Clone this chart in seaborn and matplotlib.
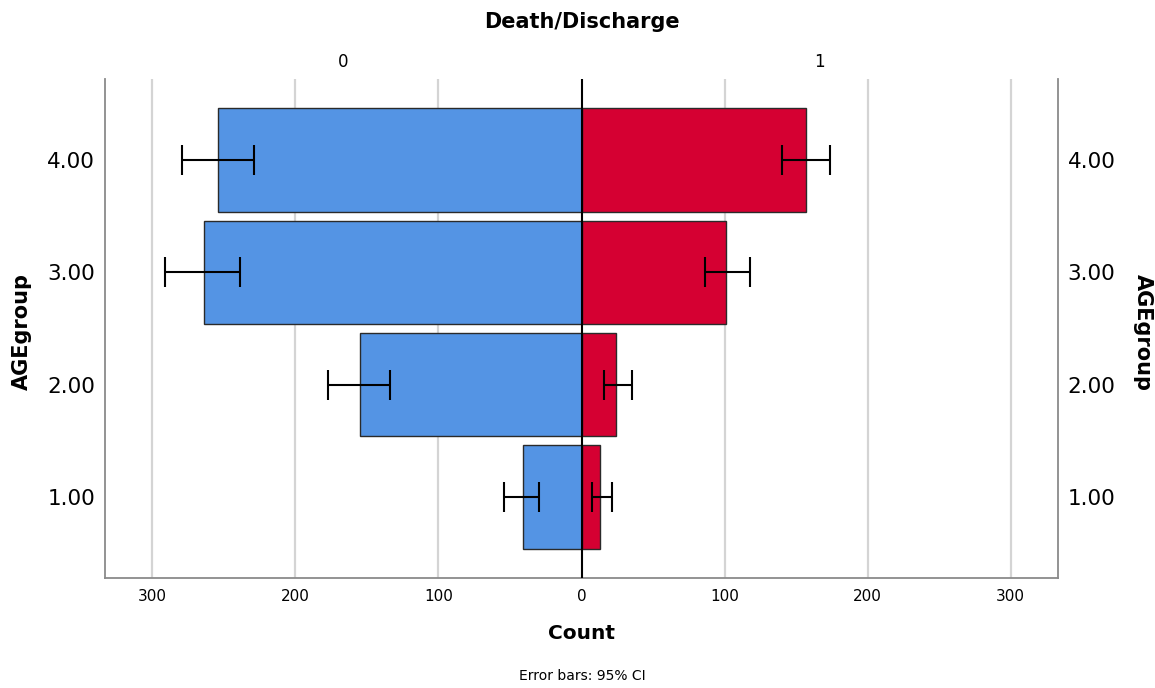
import numpy as np
import pandas as pd
import matplotlib
matplotlib.use("Agg")
import matplotlib.pyplot as plt
import matplotlib.transforms as mtransforms
import seaborn as sns

# values
age_groups = ["4.00", "3.00", "2.00", "1.00"]
outcomes = ["0", "1"]
count_0 = [254, 264, 155, 41]
count_1 = [157, 101, 24, 13]
ci_0_low = [229, 239, 134, 30]
ci_0_high = [279, 291, 177, 54]
ci_1_low = [140, 86, 16, 7]
ci_1_high = [174, 118, 35, 21]
x_ticks = [-300, -200, -100, 0, 100, 200, 300]

blue = "#5494E4"
red = "#D50032"

sns.set_style("white")
plt.rcParams["font.family"] = ["DejaVu Sans"]
plt.rcParams["text.color"] = "black"
plt.rcParams["xtick.color"] = "black"
plt.rcParams["ytick.color"] = "black"
plt.rcParams["axes.labelcolor"] = "black"

# long table, left side (outcome 0) drawn as negative counts
df = pd.DataFrame({
    "AGEgroup": age_groups * 2,
    "Death/Discharge": ["0"] * len(age_groups) + ["1"] * len(age_groups),
    "Count": [-c for c in count_0] + count_1,
})

fig = plt.figure(figsize=(11.55, 6.88), dpi=100)
ax = fig.add_axes([105 / 1155, 1 - 578 / 688, (1058 - 105) / 1155, (578 - 79) / 688])

# grid lines behind bars
for t in x_ticks:
    if t != 0:
        ax.axvline(t, color="#d4d4d4", lw=1.6, zorder=0)

sns.barplot(data=df, x="Count", y="AGEgroup", hue="Death/Discharge",
            order=age_groups, hue_order=outcomes, palette=[blue, red],
            saturation=1, dodge=False, width=0.92, errorbar=None, legend=False,
            edgecolor="#2a2a2a", linewidth=1.0, ax=ax, zorder=2)

ax.axvline(0, color="black", lw=1.5, zorder=3)

# 95% CI error bars
ypos = np.arange(len(age_groups))
c0 = np.array(count_0)
c1 = np.array(count_1)
ax.errorbar(-c0, ypos, xerr=[np.array(ci_0_high) - c0, c0 - np.array(ci_0_low)],
            fmt="none", ecolor="black", elinewidth=1.5, capsize=11, capthick=1.5, zorder=4)
ax.errorbar(c1, ypos, xerr=[c1 - np.array(ci_1_low), np.array(ci_1_high) - c1],
            fmt="none", ecolor="black", elinewidth=1.5, capsize=11, capthick=1.5, zorder=4)

ax.set_xlim(-333, 333)
ax.set_ylim(3.72, -0.72)
ax.set_xticks(x_ticks)
ax.set_xticklabels([str(abs(t)) for t in x_ticks], fontsize=11)
ax.tick_params(axis="both", length=0)
ax.tick_params(axis="x", pad=8)
ax.set_yticks(ypos)
ax.set_yticklabels(age_groups, fontsize=15.5)
ax.tick_params(axis="y", pad=7)
ax.set_xlabel("Count", fontsize=14.5, fontweight="bold", labelpad=14)
ax.set_ylabel("")

for side in ["left", "right", "bottom"]:
    ax.spines[side].set_color("#8a8a8a")
    ax.spines[side].set_linewidth(1.3)
ax.spines["top"].set_visible(False)

# right-hand axis labels
ax2 = ax.twinx()
ax2.set_ylim(ax.get_ylim())
ax2.set_yticks(ypos)
ax2.set_yticklabels(age_groups, fontsize=15.5)
ax2.tick_params(axis="y", length=0, pad=7)
for side in ["left", "right", "bottom", "top"]:
    ax2.spines[side].set_visible(False)

# panel labels on top
trans = mtransforms.blended_transform_factory(ax.transData, ax.transAxes)
ax.text(-333 / 2, 1.034, outcomes[0], transform=trans, ha="center", va="center", fontsize=12)
ax.text(333 / 2, 1.034, outcomes[1], transform=trans, ha="center", va="center", fontsize=12)

fig.text(582 / 1155, 1 - 22 / 688, "Death/Discharge", ha="center", va="center",
         fontsize=15, fontweight="bold")
fig.text(22 / 1155, 1 - 332 / 688, "AGEgroup", ha="center", va="center",
         rotation=90, fontsize=15, fontweight="bold")
fig.text(1143 / 1155, 1 - 332 / 688, "AGEgroup", ha="center", va="center",
         rotation=270, fontsize=15, fontweight="bold")
fig.text(582 / 1155, 1 - 676 / 688, "Error bars: 95% CI", ha="center", va="center",
         fontsize=10)

fig.savefig("out.png", dpi=100)
